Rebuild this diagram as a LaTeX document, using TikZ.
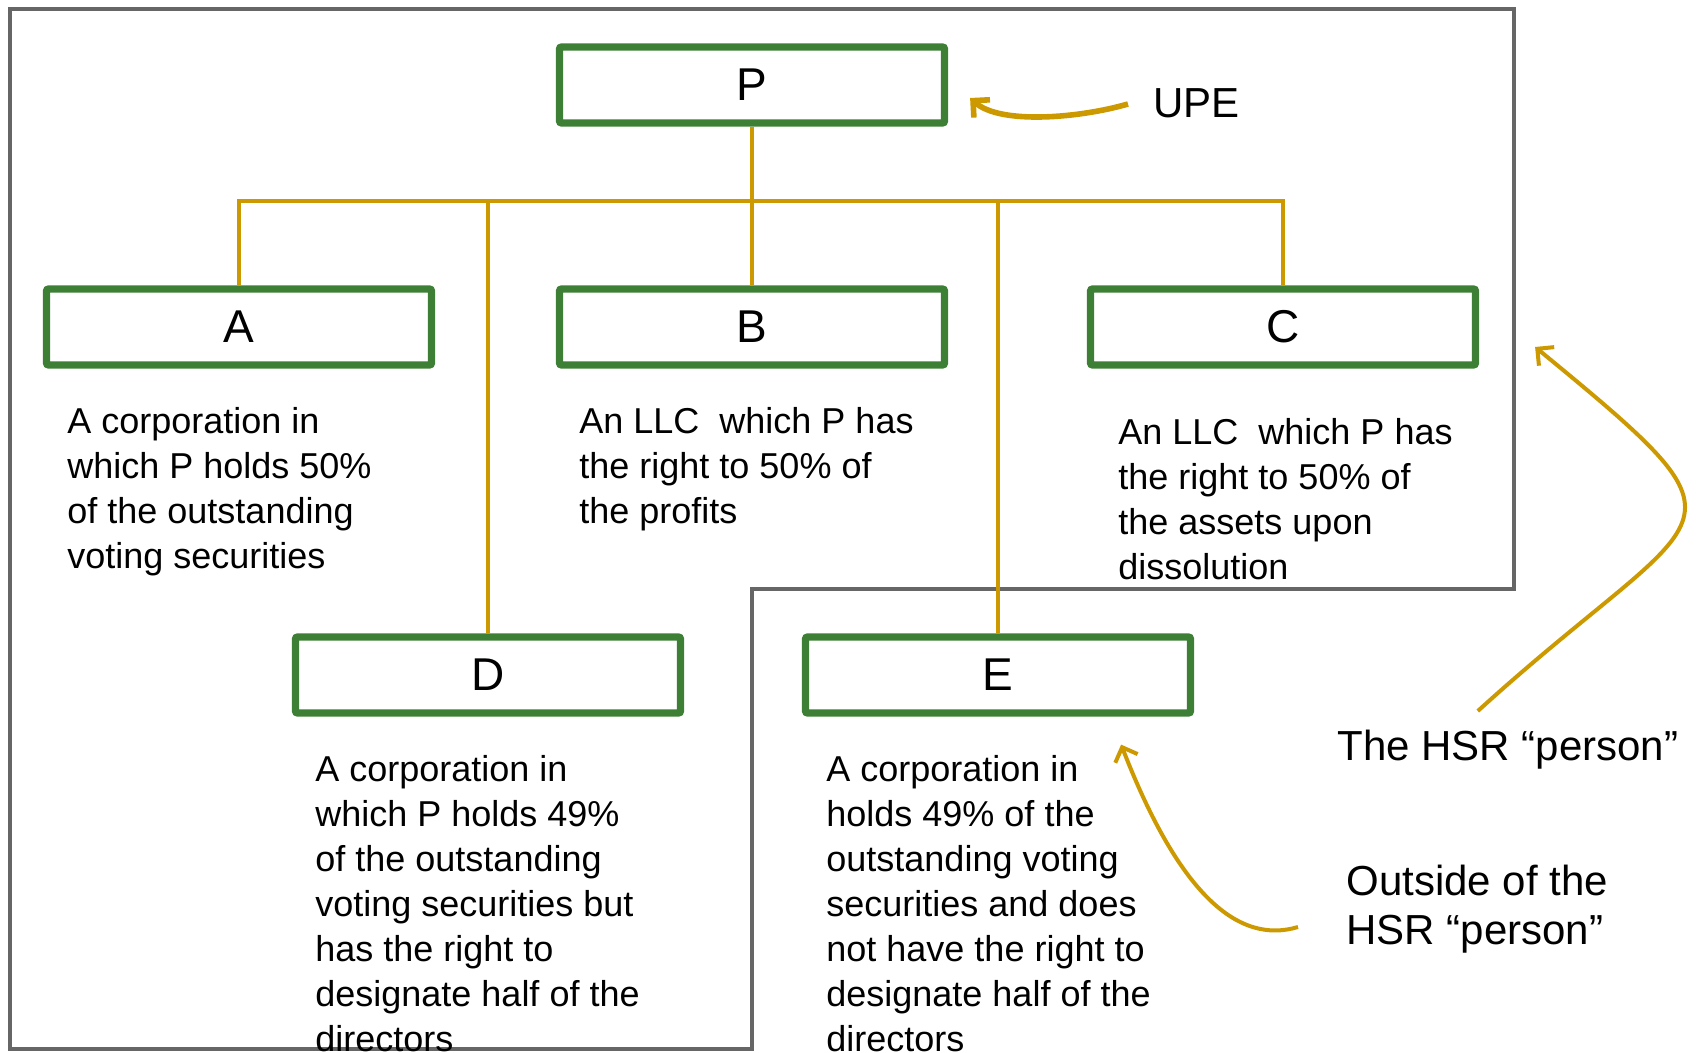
\documentclass[tikz,border=0pt]{standalone}
\usepackage{fontspec}
\setmainfont{Liberation Sans}
\usetikzlibrary{arrows.meta}
\definecolor{boxgreen}{RGB}{61,127,53}
\definecolor{gold}{RGB}{204,153,0}
\definecolor{framegrey}{RGB}{102,102,102}
\begin{document}
\begin{tikzpicture}[x=0.5pt,y=-0.5pt,
 entity/.style={draw=boxgreen, line width=3.6pt, fill=white, rounded corners=1pt,
   minimum width=192.5pt, minimum height=38pt, inner sep=0pt,
   font=\fontsize{23}{27}\selectfont},
 link/.style={draw=gold, line width=2pt},
 desc/.style={anchor=north west, inner sep=0pt, align=left,
   font=\fontsize{18}{22.5}\selectfont},
 note/.style={anchor=west, inner sep=0pt, align=left,
   font=\fontsize{21}{24.3}\selectfont},
 pointer/.style={draw=gold, line width=2pt,
   -{Straight Barb[length=6pt,width=12pt]}},
 outline/.style={draw=framegrey, line width=2pt},
]
\useasboundingbox (0,0) rectangle (1696,1053);

% HSR person outline
\draw[outline] (10,9) -- (1514,9) -- (1514,589) -- (752,589) -- (752,1049) -- (10,1049) -- cycle;

% entities
\node[entity] (P) at (752,85) {P};
\node[entity] (A) at (239,327) {A};
\node[entity] (B) at (752,327) {B};
\node[entity] (C) at (1283,327) {C};
\node[entity] (D) at (488,675) {D};
\node[entity] (E) at (998,675) {E};

% ownership lines
\coordinate (bus) at (752,201);
\draw[link] (P.south) -- (B.north);
\draw[link] (A.north) -- (A.north |- bus) -- (C.north |- bus) -- (C.north);
\draw[link] (D.north) -- (D.north |- bus);
\draw[link] (E.north) -- (E.north |- bus);

% descriptions
\node[desc] (tA) at (67,407) {A corporation in\\which P holds 50\%\\of the outstanding\\voting securities};
\node[desc] (tB) at (579,407) {An LLC\ \ which P has\\the right to 50\% of\\the profits};
\node[desc] (tC) at (1118,418) {An LLC\ \ which P has\\the right to 50\% of\\the assets upon\\dissolution};
\node[desc] (tD) at (315,755) {A corporation in\\which P holds 49\%\\of the outstanding\\voting securities but\\has the right to\\designate half of the\\directors};
\node[desc] (tE) at (826,755) {A corporation in\\holds 49\% of the\\outstanding voting\\securities and does\\not have the right to\\designate half of the\\directors};

% labels
\node[note] (upe) at (1153,103) {UPE};
\node[note] (hsr) at (1337,750) {The HSR “person”};
\node[note] (out) at (1346,909) {Outside of the\\HSR “person”};

% pointers
\draw[pointer, line width=2.8pt] ([shift={(-25,1)}]upe.west)
  .. controls (1080,118) and (1000,125) .. ([shift={(22,13)}]P.east);
\draw[pointer] ([shift={(-30,-19)}]hsr.north)
  .. controls (1710,500) and (1770,540) .. ([shift={(56,20)}]C.east);
\draw[pointer] ([shift={(-48,18)}]out.west)
  .. controls (1238,945) and (1179,894) .. ([shift={(-73,28)}]E.south east);
\end{tikzpicture}
\end{document}
